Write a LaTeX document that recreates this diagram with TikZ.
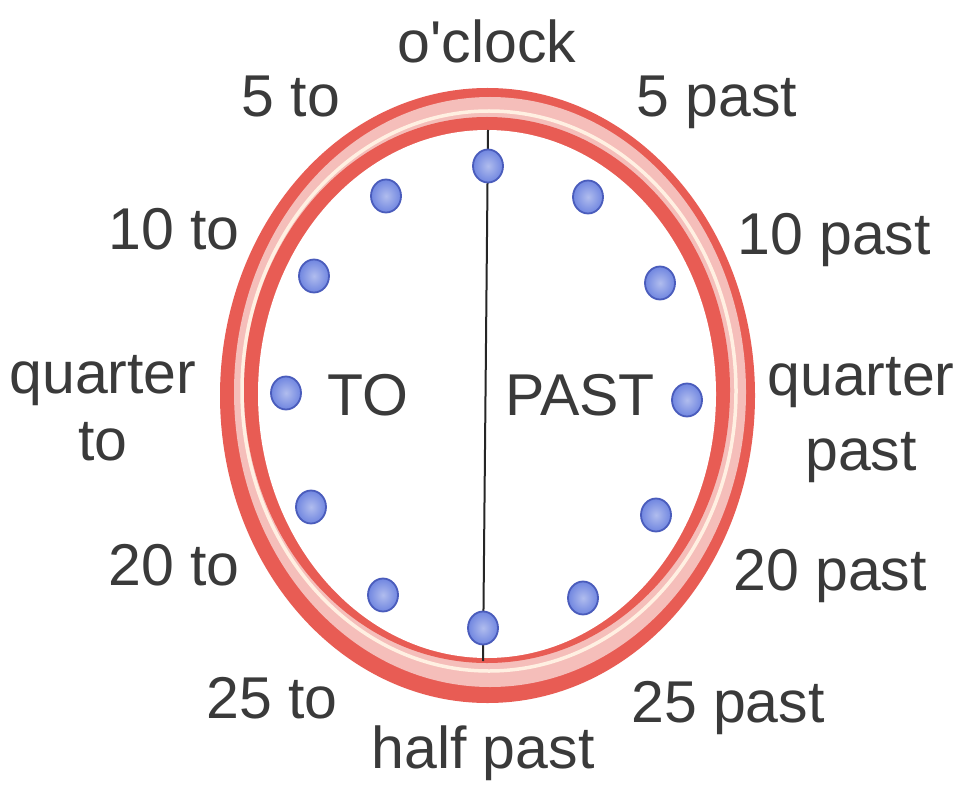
\documentclass[tikz,border=0pt]{standalone}
\usepackage{fontspec}
\setmainfont{Liberation Sans}
\usetikzlibrary{shapes.geometric}
\definecolor{ringred}{RGB}{232,92,84}
\definecolor{ringpink}{RGB}{245,190,186}
\definecolor{ringlight}{RGB}{255,240,226}
\definecolor{dotfill}{RGB}{112,134,224}
\definecolor{dotedge}{RGB}{74,92,188}
\definecolor{txt}{RGB}{58,58,58}
\begin{document}
\begin{tikzpicture}[x=1pt,y=-1pt,
  lab/.style={font=\fontsize{59}{67}\selectfont, text=txt, inner sep=0pt, anchor=base, align=center},
  dot/.style={ellipse, inner color=dotfill!55!white, outer color=dotfill, draw=dotedge, line width=1.8pt, minimum width=30pt, minimum height=33pt, inner sep=0pt}]
\useasboundingbox (0,0) rectangle (965,791);
\fill[white] (0,0) rectangle (965,791);
% ring
\fill[ringred] (487.5,395.5) ellipse [x radius=267.5, y radius=307.5];
\fill[ringpink] (490,392) ellipse [x radius=256, y radius=295];
\draw[ringlight, line width=3.5pt] (489,391) ellipse [x radius=247, y radius=280];
\fill[ringred] (487,390) ellipse [x radius=243, y radius=273];
\fill[white] (487,394) ellipse [x radius=229, y radius=264];
% dividing line
\coordinate (top) at (488,130);
\coordinate (bot) at (483,661);
\draw[line width=2pt, black!85] (top) -- (bot);
% dots
\node[dot] (d12) at (488,166) {};
\node[dot] (d1) at (588,197) {};
\node[dot] (d2) at (660,283) {};
\node[dot] (d3) at (687,400) {};
\node[dot] (d4) at (656,515) {};
\node[dot] (d5) at (583,598) {};
\node[dot] (d6) at (483,628) {};
\node[dot] (d7) at (383,595) {};
\node[dot] (d8) at (311,507) {};
\node[dot] (d9) at (286,393) {};
\node[dot] (d10) at (314,276) {};
\node[dot] (d11) at (386,196) {};
% inner words
\node[lab] (to) at (368,415) {TO};
\node[lab] (past) at (580,415) {PAST};
% labels
\node[lab] (oclock) at (487,63) {o\textquotesingle clock};
\node[lab] (fiveto) at (291,117) {5 to};
\node[lab] (fivepast) at (717,117) {5 past};
\node[lab] (tento) at (174,250) {10 to};
\node[lab] (tenpast) at (834,255) {10 past};
\node[lab] (qto) at (103,460) {quarter\\[0pt]to};
\node[lab] (qpast) at (861,470) {quarter\\[8pt]past};
\node[lab] (twentyto) at (174,585) {20 to};
\node[lab] (twentypast) at (830,590) {20 past};
\node[lab] (tfto) at (272,718) {25 to};
\node[lab] (tfpast) at (728,722) {25 past};
\node[lab] (half) at (483,768) {half past};
\end{tikzpicture}
\end{document}
